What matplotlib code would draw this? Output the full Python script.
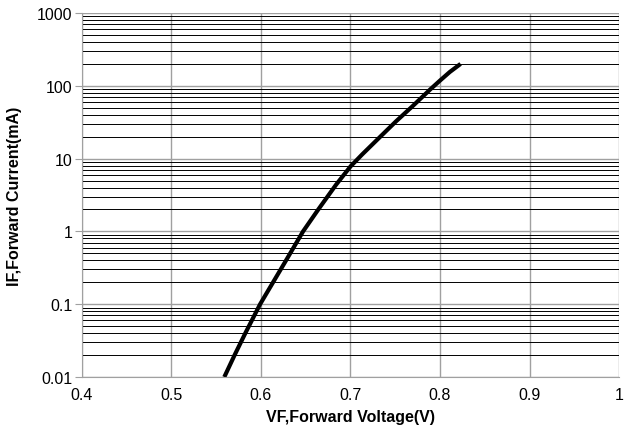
import numpy as np
import matplotlib.pyplot as plt
from matplotlib.ticker import LogLocator, NullFormatter

plt.rcParams['font.family'] = ['Liberation Sans', 'DejaVu Sans']

# forward voltage (V) vs forward current (mA)
vf = [0.559, 0.5705, 0.5825, 0.599, 0.6135, 0.628, 0.647, 0.664, 0.684, 0.700,
      0.713, 0.732, 0.751, 0.769, 0.789, 0.800, 0.811, 0.823]
if_ma = [0.01, 0.02, 0.04, 0.1, 0.2, 0.4, 1.0, 2.0, 4.4, 7.8,
         11.4, 19.3, 32.6, 52, 89, 118, 155, 200]

x_ticks = [0.4, 0.5, 0.6, 0.7, 0.8, 0.9, 1.0]
x_labels = ['0.4', '0.5', '0.6', '0.7', '0.8', '0.9', '1']
y_ticks = [0.01, 0.1, 1, 10, 100, 1000]
y_labels = ['0.01', '0.1', '1', '10', '100', '1000']

fig = plt.figure(figsize=(6.24, 4.35), dpi=100)
ax = fig.add_axes([82/624, 1-378/435, (619-82)/624, (378-14)/435])

ax.set_yscale('log')
ax.set_xlim(0.4, 1.0)
ax.set_ylim(0.01, 1000)

ax.set_xticks(x_ticks)
ax.set_xticklabels(x_labels)
ax.set_yticks(y_ticks)
ax.set_yticklabels(y_labels)
ax.yaxis.set_minor_locator(LogLocator(base=10, subs=np.arange(2, 10)))
ax.yaxis.set_minor_formatter(NullFormatter())

ax.grid(True, which='major', color='#a0a0a0', lw=1.0)
ax.grid(True, which='minor', axis='y', color='#000000', lw=0.7)
ax.set_axisbelow(True)

for s in ['top', 'right']:
    ax.spines[s].set_visible(False)
for s in ['left', 'bottom']:
    ax.spines[s].set_color('#a0a0a0')

ax.tick_params(axis='y', which='major', length=5, color='#a0a0a0', labelsize=11.5, pad=2)
ax.tick_params(axis='y', which='minor', length=0)
ax.tick_params(axis='x', length=0, labelsize=11.5, pad=7)

ax.plot(vf, if_ma, color='black', lw=3, solid_capstyle='butt', solid_joinstyle='round')

ax.set_xlabel('VF,Forward Voltage(V)', fontsize=11.5, fontweight='bold', labelpad=5)
ax.set_ylabel('IF,Forward Current(mA)', fontsize=11.5, fontweight='bold')
ax.yaxis.set_label_coords(-(82-22)/(619-82), 0.5)

fig.savefig('out.png', dpi=100)
